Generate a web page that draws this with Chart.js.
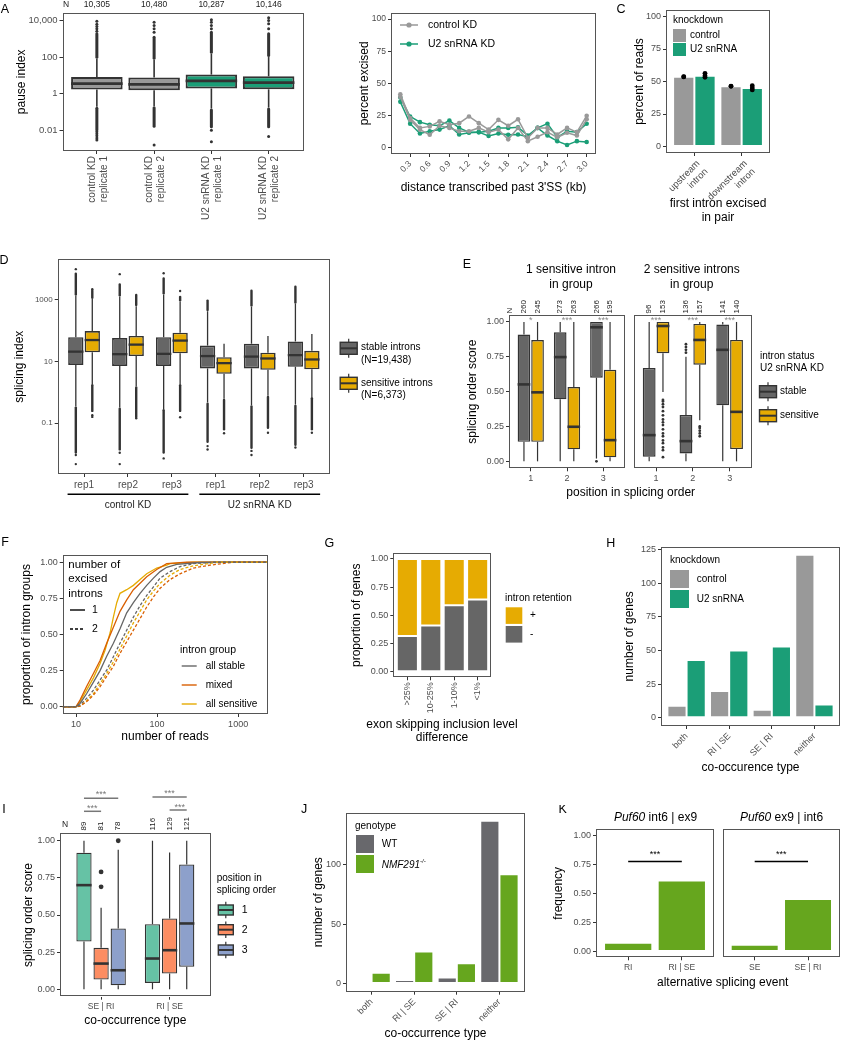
<!DOCTYPE html>
<html>
<head>
<meta charset="utf-8">
<title>Splicing figure</title>
<script src="https://cdn.jsdelivr.net/npm/chart.js@4.4.1/dist/chart.umd.min.js"></script>
<style>
  body { margin: 0; background: #fff; }
  #fig { position: relative; width: 849px; height: 1050px; overflow: hidden; }
  #fig canvas { position: absolute; }
</style>
</head>
<body>
<div id="fig"></div>
<script>
// ---------- data ----------
// A: pause index per sample (box stats, log scale)
const A_SAMPLES = [['control KD', 'replicate 1'], ['control KD', 'replicate 2'], ['U2 snRNA KD', 'replicate 1'], ['U2 snRNA KD', 'replicate 2']];
const A_N = ['10,305', '10,480', '10,287', '10,146'];
const A_Q1 = [1.65, 1.5, 1.9, 1.7];
const A_MED = [3.5, 3.2, 4.9, 4.0];
const A_Q3 = [8.1, 7.5, 10.9, 8.8];
const A_WLO = [0.19, 0.2, 0.15, 0.17];
const A_WHI = [81, 71, 151, 100];
const A_DENSE_LO = [0.01, 0.016, 0.015, 0.015];
const A_DENSE_HI = [1860, 1230, 2290, 1860];
const A_OUT = [[9100, 6300, 4700, 3500, 2600, 0.0081, 0.0062, 0.0048, 0.0037, 0.0028],
               [8100, 5400, 3500, 2300, 0.0015],
               [11000, 8100, 5400, 3500, 0.0098, 0.0023],
               [14100, 10000, 6600, 3500, 0.0044]];
const A_YTICKS = [0.01, 1, 100, 10000];
const A_YLABELS = ['0.01', '1', '100', '10,000'];

// B: percent excised vs distance transcribed
const B_KB = [0.15, 0.3, 0.45, 0.6, 0.75, 0.9, 1.05, 1.2, 1.35, 1.5, 1.65, 1.8, 1.95, 2.1, 2.25, 2.4, 2.55, 2.7, 2.85, 3.0];
const B_CTRL1 = [41.5, 23, 15.3, 16.5, 20.4, 17.8, 19, 24.2, 19, 14, 21.6, 17, 22, 7.6, 15.3, 15.3, 10.2, 15.3, 12, 24.7];
const B_CTRL2 = [39.5, 21.6, 14, 10, 17, 15.3, 12.7, 12.7, 15.3, 12, 14, 6.4, 15.3, 5, 8.4, 12, 8, 11.5, 9.4, 22];
const B_U2_1 = [39, 24.2, 19.8, 17.8, 17, 21, 15.3, 12, 12, 12.7, 15.3, 15.3, 15.8, 9.4, 15.3, 18.6, 8, 12.7, 12, 18.6];
const B_U2_2 = [35.6, 18.6, 11, 12.7, 14, 17, 10.2, 11.5, 12, 9, 11, 10, 10.2, 8.4, 15.3, 9.4, 5, 2, 5, 4.3];
const B_XTICKS = [0.3, 0.6, 0.9, 1.2, 1.5, 1.8, 2.1, 2.4, 2.7, 3.0];
const B_XLABELS = ['0.3', '0.6', '0.9', '1.2', '1.5', '1.8', '2.1', '2.4', '2.7', '3.0'];

// C: first intron excised in pair
const C_FIRST = [['upstream', 'intron'], ['downstream', 'intron']];
const C_CTRL = [53.7, 46.3];
const C_U2 = [54.5, 45.0];
const C_CTRL_REPS = [[53.7, 53.5], [46.3, 46.5]];
const C_U2_REPS = [[56.3, 54.5, 53.2], [46.8, 45.0, 43.5]];

// D: splicing index, stable vs sensitive introns
const D_REPS = ['rep1', 'rep2', 'rep3', 'rep1', 'rep2', 'rep3'];
const D_ST_Q1 = [7.8, 7.2, 7.2, 6.0, 6.0, 6.8];
const D_ST_MED = [21, 17.4, 17.8, 15.1, 14.5, 16.2];
const D_ST_Q3 = [62, 58, 62, 33, 38, 45];
const D_ST_WLO = [0.35, 0.32, 0.29, 0.47, 0.38, 0.4];
const D_ST_WHI = [1380, 1290, 1510, 430, 600, 760];
const D_ST_DLO = [0.0112, 0.0141, 0.0112, 0.025, 0.0158, 0.02];
const D_ST_DHI = [7080, 3160, 5010, 955, 2000, 2690];
const D_ST_OUT = [[10000, 0.0093, 0.0047], [6900, 0.011, 0.0047], [7400, 0.0072], [0.018, 0.014], [0.0126, 0.0093], [0.0162]];
const D_SE_Q1 = [20, 15.1, 18.6, 4.0, 5.4, 5.6];
const D_SE_MED = [50, 35.5, 48, 8.9, 12.6, 11.7];
const D_SE_Q3 = [98, 68, 87, 13.8, 19.5, 22.4];
const D_SE_WLO = [1.86, 1.58, 1.86, 0.62, 0.78, 0.71];
const D_SE_WHI = [1070, 630, 890, 38, 68, 79];
const D_SE_DLO = [0.25, 0.16, 0.25, 0.063, 0.071, 0.063];
const D_SE_DHI = [2000, 1450, 1260, 38, 68, 79];
const D_SE_OUT = [[2240, 0.18, 0.16], [0.145], [1950, 0.155], [0.047], [0.049], [0.049]];
const D_YTICKS = [0.1, 10, 1000];
const D_YLABELS = ['0.1', '10', '1000'];

// E: splicing order score by position (two facets)
const E_POS = ['1', '2', '3'];
const E1_ST = {q1: [0.14, 0.445, 0.60], med: [0.552, 0.748, 0.962], q3: [0.91, 0.926, 1.0], wlo: [0, 0, 0.02], whi: [1, 1, 1], out: [[], [], [0]]};
const E1_SE = {q1: [0.14, 0.086, 0.029], med: [0.495, 0.248, 0.152], q3: [0.87, 0.533, 0.657], wlo: [0, 0, 0], whi: [1, 1, 1], out: [[], [], []]};
const E2_ST = {q1: [0.033, 0.057, 0.402], med: [0.188, 0.145, 0.80], q3: [0.669, 0.333, 0.981], wlo: [0, 0, 0], whi: [1, 0.75, 1], out: [[], [0.78, 0.80, 0.82, 0.84], []]};
const E2_SE = {q1: [0.776, 0.693, 0.088], med: [0.971, 0.871, 0.355], q3: [1.0, 0.986, 0.871], wlo: [0.498, 0.295, 0], whi: [1, 1, 1],
  out: [[0.44, 0.43, 0.41, 0.39, 0.36, 0.33, 0.3, 0.28, 0.26, 0.23, 0.2, 0.18, 0.15, 0.13, 0.1, 0.08, 0.03], [0.25, 0.24, 0.22, 0.2, 0.18], []]};
const E1_N_ST = ['260', '273', '266'], E1_N_SE = ['245', '263', '195'];
const E2_N_ST = ['96', '136', '141'], E2_N_SE = ['153', '157', '140'];
const E1_SIG = ['*', '***', '***'], E2_SIG = ['***', '***', '***'];
const SCORE_TICKS = [0, 0.25, 0.5, 0.75, 1];
const SCORE_LABELS = ['0.00', '0.25', '0.50', '0.75', '1.00'];

// F: cumulative proportion of intron groups vs number of reads
const F_ST1_X = [6.85, 10, 11.2, 13.5, 16.4, 19.8, 23.9, 28.9, 34.9, 42.2, 51, 61.7, 74.5, 90.2, 109, 131.5, 175, 339, 725, 2290];
const F_ST1_Y = [0, 0, 0.023, 0.09, 0.17, 0.25, 0.35, 0.44, 0.54, 0.65, 0.72, 0.785, 0.84, 0.89, 0.935, 0.965, 0.985, 0.998, 1, 1];
const F_MX1_X = [6.85, 10, 11.2, 13.5, 16.4, 19.8, 23.9, 28.9, 34.9, 42.2, 51, 61.7, 74.5, 99, 131.5, 232, 2290];
const F_MX1_Y = [0, 0, 0.046, 0.14, 0.23, 0.32, 0.44, 0.55, 0.66, 0.74, 0.81, 0.855, 0.9, 0.95, 0.99, 1, 1];
const F_SE1_X = [6.85, 10, 11.2, 13.5, 16.4, 19.8, 22.8, 26.3, 28.9, 31.8, 34.9, 42.2, 51, 61.7, 74.5, 99, 131.5, 144.5, 281, 2290];
const F_SE1_Y = [0, 0, 0.035, 0.115, 0.2, 0.3, 0.39, 0.51, 0.62, 0.72, 0.785, 0.81, 0.84, 0.88, 0.92, 0.96, 0.98, 0.99, 1, 1];
const F_ST2_X = [6.85, 10, 11.2, 13.5, 16.4, 19.8, 23.9, 28.9, 34.9, 42.2, 51, 61.7, 74.5, 90.2, 109, 144.5, 192, 281, 496, 2290];
const F_ST2_Y = [0, 0, 0.012, 0.058, 0.115, 0.185, 0.254, 0.346, 0.44, 0.53, 0.62, 0.7, 0.77, 0.83, 0.89, 0.935, 0.97, 0.99, 1, 1];
const F_MX2_X = [6.85, 10, 11.2, 13.5, 16.4, 19.8, 23.9, 28.9, 34.9, 42.2, 51, 61.7, 74.5, 90.2, 109, 144.5, 192, 281, 451, 875, 2290];
const F_MX2_Y = [0, 0, 0.005, 0.035, 0.08, 0.14, 0.21, 0.28, 0.37, 0.45, 0.53, 0.61, 0.69, 0.76, 0.82, 0.88, 0.92, 0.96, 0.98, 1, 1];
const F_SE2_X = [6.85, 10, 11.2, 13.5, 16.4, 19.8, 23.9, 28.9, 34.9, 42.2, 51, 61.7, 74.5, 90.2, 109, 144.5, 192, 281, 545, 2290];
const F_SE2_Y = [0, 0, 0.004, 0.042, 0.09, 0.16, 0.23, 0.31, 0.40, 0.49, 0.58, 0.66, 0.74, 0.8, 0.855, 0.91, 0.95, 0.975, 1, 1];

// G: intron retention by exon skipping inclusion level difference
const G_BINS = ['>25%', '10-25%', '1-10%', '<1%'];
const G_MINUS = [0.317, 0.41, 0.59, 0.64];
const G_PLUS = [0.683, 0.59, 0.41, 0.36];

// H: co-occurence type, knockdown
const CO_TYPES = ['both', 'RI | SE', 'SE | RI', 'neither'];
const H_CTRL = [9, 20, 6, 121];
const H_U2 = [43, 50, 53, 10];

// I: splicing order score by co-occurrence type
const I_TYPES = ['SE | RI', 'RI | SE'];
const I_P1 = {q1: [0.321, 0.043], med: [0.701, 0.207], q3: [0.919, 0.438], wlo: [0, 0], whi: [1, 1], out: [[], []]};
const I_P2 = {q1: [0.065, 0.106], med: [0.173, 0.263], q3: [0.279, 0.476], wlo: [0, 0], whi: [0.548, 0.92], out: [[0.79, 0.69], []]};
const I_P3 = {q1: [0.027, 0.151], med: [0.128, 0.443], q3: [0.409, 0.84], wlo: [0, 0], whi: [0.94, 1], out: [[1.0], []]};
const I_N = [['89', '116'], ['81', '129'], ['78', '121']];

// J: genotype
const J_WT = [0, 3, 5, 137];
const J_NMF = [9, 27, 17, 92];

// K: Puf60 events
const K_LEFT = ['RI', 'RI | SE'];
const K_LEFT_FREQ = [0.076, 0.609];
const K_RIGHT = ['SE', 'SE | RI'];
const K_RIGHT_FREQ = [0.057, 0.450];

// ---------- styling ----------
const INK = '#333333';
const FONT = "'Liberation Sans', Arial, Helvetica, sans-serif";
const GREY = '#999999', GREEN = '#1b9e77', DARK = '#666666', GOLD = '#e6ab02', ORANGE = '#d95f02', LIME = '#66a61e', WTGREY = '#68686c';
const SET2 = ['#66c2a5', '#fc8d62', '#8da0cb'];

Chart.defaults.font.family = FONT;
Chart.defaults.color = '#4d4d4d';

const FIG = document.getElementById('fig');

function scaleOpts(a, horiz, o) {
  const [cx, cy, cw, chh] = o.box, fr = o.frame;
  const lh = 12 * 1.2;
  const pad = {top: 0, bottom: 0};
  if (a.title) {
    if (horiz) pad.bottom = cy + chh - a.titleAt - lh / 2;
    else pad.top = a.titleAt - cx - lh / 2;
  }
  return {
    type: a.type || 'linear', min: a.min, max: a.max, stacked: !!a.stacked, offset: false,
    grid: {offset: false, drawOnChartArea: false, drawTicks: !a.hide, tickLength: 3, color: INK, lineWidth: 1},
    border: {display: false},
    ticks: {display: !a.hide, autoSkip: false, padding: 2, color: '#4d4d4d', font: {size: a.fs || 9},
            minRotation: a.rot || 0, maxRotation: a.rot || 0, labelOffset: a.lo || 0,
            callback: (v, i) => (a.labels ? a.labels[i] : '')},
    afterBuildTicks: s => { s.ticks = a.ticks.map(v => ({value: v})); },
    afterFit: s => {
      if (horiz) s.height = cy + chh - fr[3]; else s.width = fr[0] - cx;
      s.paddingLeft = s.paddingRight = s.paddingTop = s.paddingBottom = 0;
    },
    title: {display: !!a.title, text: a.title || '', color: '#000', font: {size: 12, lineHeight: 1.2}, padding: pad}
  };
}

function seg(ctx, x1, y1, x2, y2) {
  ctx.beginPath(); ctx.moveTo(x1, y1); ctx.lineTo(x2, y2); ctx.stroke();
}
function dot(ctx, x, y, r) {
  ctx.beginPath(); ctx.arc(x, y, r, 0, Math.PI * 2); ctx.fill();
}

// whiskers / medians / outliers for floating-bar boxes, dots for replicates
function boxParts(ch, front) {
  const ctx = ch.ctx, ys = ch.scales.y;
  const py = v => ys.getPixelForValue(v);
  ch.data.datasets.forEach((ds, di) => {
    const meta = ch.getDatasetMeta(di);
    if (ds.reps && front) {
      meta.data.forEach((el, j) => {
        ctx.save(); ctx.fillStyle = '#000';
        ds.reps[j].forEach(v => dot(ctx, el.x, py(v), 2.4));
        ctx.restore();
      });
    }
    const st = ds.stats;
    if (!st) return;
    meta.data.forEach((el, j) => {
      const x = el.x, hw = el.width / 2, q = ds.data[j].y;
      ctx.save();
      ctx.strokeStyle = INK; ctx.fillStyle = INK;
      if (!front) {
        ctx.lineWidth = st.lw;
        seg(ctx, x, py(q[1]), x, py(st.whi[j]));
        seg(ctx, x, py(q[0]), x, py(st.wlo[j]));
      } else {
        ctx.lineWidth = st.mw;
        seg(ctx, x - hw, py(st.med[j]), x + hw, py(st.med[j]));
        ctx.lineCap = 'round';
        ctx.lineWidth = st.r * 2;
        if (st.dhi && st.dhi[j] > st.whi[j]) seg(ctx, x, py(st.whi[j]) - st.r, x, py(st.dhi[j]));
        if (st.dlo && st.dlo[j] < st.wlo[j]) seg(ctx, x, py(st.wlo[j]) + st.r, x, py(st.dlo[j]));
        (st.out[j] || []).forEach(v => dot(ctx, x, py(v), st.r));
      }
      ctx.restore();
    });
  });
}

function drawNotes(ch, items, bx) {
  const ctx = ch.ctx;
  const X = (it, k) => {
    if (it[k + 'e']) { const e = it[k + 'e']; return ch.getDatasetMeta(e[0]).data[e[1]].x; }
    if (it[k + 'v'] !== undefined) return ch.scales.x.getPixelForValue(it[k + 'v']);
    return it[k] - bx[0];
  };
  const Y = (it, k) => (it[k + 'v'] !== undefined ? ch.scales.y.getPixelForValue(it[k + 'v']) : it[k] - bx[1]);
  items.forEach(it => {
    ctx.save();
    if (it.t === 'l') {
      ctx.strokeStyle = it.c || INK; ctx.lineWidth = it.w || 1; ctx.setLineDash(it.d || []);
      seg(ctx, X(it, 'x1'), Y(it, 'y1'), X(it, 'x2'), Y(it, 'y2'));
    } else if (it.t === 'r') {
      const x = X(it, 'x'), y = Y(it, 'y');
      ctx.fillStyle = it.c; ctx.fillRect(x, y, it.w, it.h);
      if (it.s) { ctx.strokeStyle = it.s; ctx.lineWidth = it.lw || 1; ctx.strokeRect(x, y, it.w, it.h); }
    } else if (it.t === 'p') {
      ctx.fillStyle = it.c; dot(ctx, X(it, 'x'), Y(it, 'y'), it.r);
    } else {
      const f = it.f || 10;
      const parts = it.parts || [[it.s, it.it]];
      const fontOf = p => (p[1] ? 'italic ' : '') + (p[2] ? f * 0.6 : f) + 'px ' + FONT;
      let total = 0;
      parts.forEach(p => { ctx.font = fontOf(p); total += ctx.measureText(p[0]).width; });
      ctx.translate(X(it, 'x'), Y(it, 'y'));
      if (it.r) ctx.rotate(it.r * Math.PI / 180);
      const al = it.a || 'center';
      let x0 = al === 'center' ? -total / 2 : (al === 'right' ? -total : 0);
      ctx.textBaseline = 'middle'; ctx.textAlign = 'left'; ctx.fillStyle = it.c || '#000';
      parts.forEach(p => {
        ctx.font = fontOf(p);
        ctx.fillText(p[0], x0, p[2] ? -f * 0.35 : 0);
        x0 += ctx.measureText(p[0]).width;
      });
    }
    ctx.restore();
  });
}

function deco(o) {
  return {
    id: 'deco',
    beforeDatasetsDraw(ch) { boxParts(ch, false); },
    afterDatasetsDraw(ch) { boxParts(ch, true); },
    afterDraw(ch) {
      const ctx = ch.ctx, a = ch.chartArea;
      ctx.save();
      ctx.strokeStyle = '#555555'; ctx.lineWidth = 1;
      ctx.strokeRect(Math.round(a.left) + 0.5, Math.round(a.top) + 0.5, Math.round(a.right - a.left) - 1, Math.round(a.bottom - a.top) - 1);
      ctx.restore();
      drawNotes(ch, o.notes || [], o.box);
    }
  };
}

function makeChart(o) {
  const [cx, cy, cw, chh] = o.box;
  const cv = document.createElement('canvas');
  cv.width = cw; cv.height = chh;
  cv.style.left = cx + 'px'; cv.style.top = cy + 'px';
  cv.style.width = cw + 'px'; cv.style.height = chh + 'px';
  FIG.appendChild(cv);
  return new Chart(cv, {
    type: o.type || 'bar',
    data: {datasets: o.datasets},
    options: {
      responsive: false, animation: false, events: [], devicePixelRatio: 1,
      layout: {padding: {left: 0, top: o.frame[1] - cy, right: cx + cw - o.frame[2], bottom: 0}},
      plugins: {legend: {display: false}, tooltip: {enabled: false}},
      scales: {x: scaleOpts(o.x, true, o), y: scaleOpts(o.y, false, o)}
    },
    plugins: [deco(o)]
  });
}

// helpers for annotations
const T = (s, x, y, f, more) => Object.assign({s, x, y, f}, more || {});
const letter = (s, x, y) => T(s, x, y, 12.5);
function boxKey(cx, cy, w, h, wh, fill) {
  return [
    {t: 'l', x1: cx, y1: cy - wh, x2: cx, y2: cy + wh, c: INK, w: 1.2},
    {t: 'r', x: cx - w / 2, y: cy - h / 2, w: w, h: h, c: fill, s: INK, lw: 1.4},
    {t: 'l', x1: cx - w / 2, y1: cy, x2: cx + w / 2, y2: cy, c: INK, w: 2}
  ];
}
const idx = arr => arr.map((_, i) => i);
const boxData = st => st.q1.map((q, i) => ({x: i, y: [q, st.q3[i]]}));
const barData = vals => vals.map((v, i) => ({x: i, y: v}));
const xyData = (xs, ys) => xs.map((x, i) => ({x: x, y: ys[i]}));

// ---------- A ----------
makeChart({
  box: [0, 0, 306, 232], frame: [62.5, 12.7, 303, 151],
  x: {min: -0.6, max: 3.6, ticks: idx(A_SAMPLES), labels: A_SAMPLES, rot: 90, fs: 10, lo: -5},
  y: {type: 'logarithmic', min: 0.000708, max: 26900, ticks: A_YTICKS, labels: A_YLABELS, fs: 9.5, title: 'pause index', titleAt: 22},
  datasets: [{
    data: A_Q1.map((q, i) => ({x: i, y: [q, A_Q3[i]]})),
    backgroundColor: [GREY, GREY, GREEN, GREEN], borderColor: INK, borderWidth: 2, borderSkipped: false,
    categoryPercentage: 0.9, barPercentage: 1,
    stats: {wlo: A_WLO, whi: A_WHI, med: A_MED, dlo: A_DENSE_LO, dhi: A_DENSE_HI, out: A_OUT, lw: 1.6, mw: 2.8, r: 1.5}
  }],
  notes: [letter('A', 5, 10), T('N', 66, 5, 8.5, {c: '#222'})]
    .concat(A_N.map((n, i) => T(n, 0, 5, 8.5, {xv: i, c: '#222'})))
});

// ---------- B ----------
const bLine = (vals, col) => ({
  data: xyData(B_KB, vals), borderColor: col, backgroundColor: col, borderWidth: 1.5,
  pointRadius: 2.3, pointBorderWidth: 0, tension: 0
});
makeChart({
  type: 'line', box: [355, 0, 245, 200], frame: [391, 12.7, 596, 154],
  x: {min: 0.0075, max: 3.1425, ticks: B_XTICKS, labels: B_XLABELS, rot: 45, fs: 8.5, title: "distance transcribed past 3'SS (kb)", titleAt: 188},
  y: {min: -5, max: 105, ticks: [0, 25, 50, 75, 100], labels: ['0', '25', '50', '75', '100'], fs: 8.5, title: 'percent excised', titleAt: 365},
  datasets: [bLine(B_CTRL1, GREY), bLine(B_CTRL2, GREY), bLine(B_U2_1, GREEN), bLine(B_U2_2, GREEN)],
  notes: [letter('B', 350, 10),
    {t: 'l', x1: 400, y1: 25, x2: 418, y2: 25, c: GREY, w: 1.5}, {t: 'p', x: 409, y: 25, r: 2.6, c: GREY}, T('control KD', 428, 25, 10.5, {a: 'left'}),
    {t: 'l', x1: 400, y1: 44, x2: 418, y2: 44, c: GREEN, w: 1.5}, {t: 'p', x: 409, y: 44, r: 2.6, c: GREEN}, T('U2 snRNA KD', 428, 44, 10.5, {a: 'left'})]
});

// ---------- C ----------
makeChart({
  box: [600, 0, 249, 230], frame: [666, 10, 770, 153],
  x: {min: -0.6, max: 1.6, ticks: idx(C_FIRST), labels: C_FIRST, rot: 45, fs: 9.5, lo: 4, title: ['first intron excised', 'in pair'], titleAt: 218},
  y: {min: -5, max: 105, ticks: [0, 25, 50, 75, 100], labels: ['0', '25', '50', '75', '100'], fs: 9, title: 'percent of reads', titleAt: 640},
  datasets: [
    {data: barData(C_CTRL), backgroundColor: GREY, borderColor: '#fff', borderWidth: 1, borderSkipped: false, categoryPercentage: 0.9, barPercentage: 1, reps: C_CTRL_REPS},
    {data: barData(C_U2), backgroundColor: GREEN, borderColor: '#fff', borderWidth: 1, borderSkipped: false, categoryPercentage: 0.9, barPercentage: 1, reps: C_U2_REPS}
  ],
  notes: [letter('C', 621, 10), T('knockdown', 673, 20, 10, {a: 'left'}),
    {t: 'r', x: 673, y: 29, w: 13, h: 13, c: GREY}, T('control', 690, 35.5, 10, {a: 'left'}),
    {t: 'r', x: 673, y: 43, w: 13, h: 13, c: GREEN}, T('U2 snRNA', 690, 49.5, 10, {a: 'left'})]
});

// ---------- D ----------
makeChart({
  box: [0, 250, 440, 265], frame: [57.7, 259.3, 330, 474],
  x: {min: -0.6, max: 5.6, ticks: idx(D_REPS), labels: D_REPS, fs: 10},
  y: {type: 'logarithmic', min: 0.00224, max: 20900, ticks: D_YTICKS, labels: D_YLABELS, fs: 8, title: 'splicing index', titleAt: 20},
  datasets: [
    {data: D_ST_Q1.map((q, i) => ({x: i, y: [q, D_ST_Q3[i]]})), backgroundColor: DARK, borderColor: INK, borderWidth: 1.6, borderSkipped: false,
     categoryPercentage: 0.75, barPercentage: 0.93,
     stats: {wlo: D_ST_WLO, whi: D_ST_WHI, med: D_ST_MED, dlo: D_ST_DLO, dhi: D_ST_DHI, out: D_ST_OUT, lw: 1.3, mw: 2.3, r: 1.2}},
    {data: D_SE_Q1.map((q, i) => ({x: i, y: [q, D_SE_Q3[i]]})), backgroundColor: GOLD, borderColor: INK, borderWidth: 1.6, borderSkipped: false,
     categoryPercentage: 0.75, barPercentage: 0.93,
     stats: {wlo: D_SE_WLO, whi: D_SE_WHI, med: D_SE_MED, dlo: D_SE_DLO, dhi: D_SE_DHI, out: D_SE_OUT, lw: 1.3, mw: 2.3, r: 1.2}}
  ],
  notes: [letter('D', 4, 261),
    {t: 'l', x1v: -0.375, x2v: 2.375, y1: 494.3, y2: 494.3, c: '#000', w: 1.5},
    {t: 'l', x1v: 2.625, x2v: 5.375, y1: 494.3, y2: 494.3, c: '#000', w: 1.5},
    T('control KD', 0, 505, 10, {xv: 1, c: '#222'}), T('U2 snRNA KD', 0, 505, 10, {xv: 4, c: '#222'})]
    .concat(boxKey(348.7, 348.3, 17, 12, 9.5, DARK), boxKey(348.7, 383.3, 17, 12, 9.5, GOLD),
      [T('stable introns', 361, 347.7, 10, {a: 'left'}), T('(N=19,438)', 361, 360, 10, {a: 'left'}),
       T('sensitive introns', 361, 383.3, 10, {a: 'left'}), T('(N=6,373)', 361, 395.7, 10, {a: 'left'})])
});

// ---------- E ----------
const eBoxes = (st, se) => [
  {data: boxData(st), backgroundColor: DARK, borderColor: INK, borderWidth: 1.4, borderSkipped: false, categoryPercentage: 0.75, barPercentage: 0.93,
   stats: Object.assign({lw: 1.2, mw: 2.6, r: 1.4}, st)},
  {data: boxData(se), backgroundColor: GOLD, borderColor: INK, borderWidth: 1.4, borderSkipped: false, categoryPercentage: 0.75, barPercentage: 0.93,
   stats: Object.assign({lw: 1.2, mw: 2.6, r: 1.4}, se)}
];
const nLabels = (stN, seN) => stN.map((n, j) => T(n, 0, 313.5, 8, {xe: [0, j], r: -90, a: 'left', c: '#222'}))
  .concat(seN.map((n, j) => T(n, 0, 313.5, 8, {xe: [1, j], r: -90, a: 'left', c: '#222'})));
const stars = sig => sig.map((s, j) => T(s, 0, 320.5, 9, {xv: j, c: '#888'}));
makeChart({
  box: [440, 255, 409, 250], frame: [509, 315, 625, 468.3],
  x: {min: -0.6, max: 2.6, ticks: idx(E_POS), labels: E_POS, fs: 9},
  y: {min: -0.05, max: 1.05, ticks: SCORE_TICKS, labels: SCORE_LABELS, fs: 9, title: 'splicing order score', titleAt: 473},
  datasets: eBoxes(E1_ST, E1_SE),
  notes: [letter('E', 467, 265),
    T('1 sensitive intron', 571, 270, 12), T('in group', 571, 284.3, 12),
    T('2 sensitive introns', 691.7, 270, 12), T('in group', 691.7, 284.3, 12),
    T('N', 510, 313.5, 8, {r: -90, a: 'left', c: '#222'}),
    T('position in splicing order', 630.7, 492.7, 12)]
    .concat(nLabels(E1_N_ST, E1_N_SE), stars(E1_SIG))
});
makeChart({
  box: [630, 255, 219, 250], frame: [634, 315, 751.7, 468.3],
  x: {min: -0.6, max: 2.6, ticks: idx(E_POS), labels: E_POS, fs: 9},
  y: {min: -0.05, max: 1.05, ticks: SCORE_TICKS, hide: true},
  datasets: eBoxes(E2_ST, E2_SE),
  notes: nLabels(E2_N_ST, E2_N_SE).concat(stars(E2_SIG),
    [T('intron status', 760, 356.7, 10, {a: 'left'}), T('U2 snRNA KD', 760, 368.3, 10, {a: 'left'})],
    boxKey(768, 391.7, 17, 12, 9.5, DARK), boxKey(768, 415.7, 17, 12, 9.5, GOLD),
    [T('stable', 780, 391.7, 10, {a: 'left'}), T('sensitive', 780, 415.7, 10, {a: 'left'})])
});

// ---------- F ----------
const fLine = (xs, ys, col, dash) => ({
  data: xyData(xs, ys), borderColor: col, borderWidth: 1.3, borderDash: dash ? [3, 2] : [], pointRadius: 0, tension: 0, fill: false
});
makeChart({
  type: 'line', box: [0, 530, 290, 217], frame: [62.7, 555, 267.3, 714],
  x: {type: 'logarithmic', min: 6.85, max: 2290, ticks: [10, 100, 1000], labels: ['10', '100', '1000'], fs: 9, title: 'number of reads', titleAt: 736.7},
  y: {min: -0.05, max: 1.05, ticks: SCORE_TICKS, labels: SCORE_LABELS, fs: 9, title: 'proportion of intron groups', titleAt: 26.7},
  datasets: [
    fLine(F_ST2_X, F_ST2_Y, DARK, true), fLine(F_MX2_X, F_MX2_Y, ORANGE, true), fLine(F_SE2_X, F_SE2_Y, GOLD, true),
    fLine(F_ST1_X, F_ST1_Y, DARK, false), fLine(F_MX1_X, F_MX1_Y, ORANGE, false), fLine(F_SE1_X, F_SE1_Y, GOLD, false)
  ],
  notes: [letter('F', 5, 543),
    T('number of', 68.3, 565, 11.5, {a: 'left'}), T('excised', 68.3, 579.3, 11.5, {a: 'left'}), T('introns', 68.3, 593.5, 11.5, {a: 'left'}),
    {t: 'l', x1: 70, y1: 610, x2: 85, y2: 610, c: '#000', w: 1.4}, T('1', 95, 610, 10.5),
    {t: 'l', x1: 70, y1: 629, x2: 85, y2: 629, c: '#000', w: 1.4, d: [3, 2]}, T('2', 95, 629, 10.5),
    T('intron group', 180, 650, 10.5, {a: 'left'}),
    {t: 'l', x1: 181.7, y1: 666, x2: 196.7, y2: 666, c: DARK, w: 1.4}, T('all stable', 205.7, 666, 10, {a: 'left'}),
    {t: 'l', x1: 181.7, y1: 685, x2: 196.7, y2: 685, c: ORANGE, w: 1.4}, T('mixed', 205.7, 685, 10, {a: 'left'}),
    {t: 'l', x1: 181.7, y1: 704, x2: 196.7, y2: 704, c: GOLD, w: 1.4}, T('all sensitive', 205.7, 704, 10, {a: 'left'})]
});

// ---------- G ----------
makeChart({
  box: [300, 530, 290, 220], frame: [393.3, 553.3, 491.7, 677.3],
  x: {min: -0.6, max: 3.6, stacked: true, ticks: idx(G_BINS), labels: G_BINS, rot: 90, fs: 9},
  y: {min: -0.05, max: 1.05, stacked: true, ticks: SCORE_TICKS, labels: SCORE_LABELS, fs: 9, title: 'proportion of genes', titleAt: 356.7},
  datasets: [
    {data: barData(G_MINUS), backgroundColor: DARK, borderColor: '#fff', borderWidth: 1, borderSkipped: false, categoryPercentage: 0.9, barPercentage: 1},
    {data: barData(G_PLUS), backgroundColor: GOLD, borderColor: '#fff', borderWidth: 1, borderSkipped: false, categoryPercentage: 0.9, barPercentage: 1}
  ],
  notes: [letter('G', 329.3, 544), T('intron retention', 505, 598.3, 10, {a: 'left'}),
    {t: 'r', x: 505.7, y: 607.3, w: 16.6, h: 16.6, c: GOLD}, T('+', 530, 615.7, 10, {a: 'left'}),
    {t: 'r', x: 505.7, y: 626, w: 16.6, h: 16.6, c: DARK}, T('-', 530, 634.3, 10, {a: 'left'}),
    T('exon skipping inclusion level', 442, 724.3, 12), T('difference', 442, 737.7, 12)]
});

// ---------- H ----------
makeChart({
  box: [600, 530, 249, 245], frame: [661, 546.7, 840, 726],
  x: {min: -0.6, max: 3.6, ticks: idx(CO_TYPES), labels: CO_TYPES, rot: 45, fs: 9, title: 'co-occurence type', titleAt: 767.3},
  y: {min: -6.05, max: 127.05, ticks: [0, 25, 50, 75, 100, 125], labels: ['0', '25', '50', '75', '100', '125'], fs: 9, title: 'number of genes', titleAt: 630},
  datasets: [
    {data: barData(H_CTRL), backgroundColor: GREY, borderColor: '#fff', borderWidth: 1, borderSkipped: false, categoryPercentage: 0.9, barPercentage: 1},
    {data: barData(H_U2), backgroundColor: GREEN, borderColor: '#fff', borderWidth: 1, borderSkipped: false, categoryPercentage: 0.9, barPercentage: 1}
  ],
  notes: [letter('H', 610.7, 544), T('knockdown', 670, 560.7, 10, {a: 'left'}),
    {t: 'r', x: 670, y: 570, w: 19, h: 18, c: GREY}, T('control', 696.7, 579.3, 10, {a: 'left'}),
    {t: 'r', x: 670, y: 590, w: 19, h: 18, c: GREEN}, T('U2 snRNA', 696.7, 599, 10, {a: 'left'})]
});

// ---------- I ----------
const iBox = (st, col) => ({
  data: boxData(st), backgroundColor: col, borderColor: INK, borderWidth: 1.3, borderSkipped: false,
  categoryPercentage: 0.75, barPercentage: 0.89, stats: Object.assign({lw: 1.2, mw: 2.6, r: 2.4}, st)
});
makeChart({
  box: [0, 785, 290, 265], frame: [60, 833.3, 210.7, 996.7],
  x: {min: -0.6, max: 1.6, ticks: idx(I_TYPES), labels: I_TYPES, fs: 8.5, title: 'co-occurrence type', titleAt: 1020.7},
  y: {min: -0.05, max: 1.05, ticks: SCORE_TICKS, labels: SCORE_LABELS, fs: 9, title: 'splicing order score', titleAt: 28.3},
  datasets: [iBox(I_P1, SET2[0]), iBox(I_P2, SET2[1]), iBox(I_P3, SET2[2])],
  notes: [letter('I', 4, 810), T('N', 65, 825, 8.5, {c: '#222'}),
    {t: 'l', x1e: [0, 0], x2e: [2, 0], y1: 798.3, y2: 798.3, c: '#777', w: 1.5}, T('***', 0, 794.7, 9, {xe: [1, 0], c: '#777'}),
    {t: 'l', x1e: [0, 0], x2e: [1, 0], y1: 811.3, y2: 811.3, c: '#777', w: 1.5}, T('***', 92.3, 808.7, 9, {c: '#777'}),
    {t: 'l', x1e: [0, 1], x2e: [2, 1], y1: 797, y2: 797, c: '#777', w: 1.5}, T('***', 0, 793.7, 9, {xe: [1, 1], c: '#777'}),
    {t: 'l', x1e: [1, 1], x2e: [2, 1], y1: 810, y2: 810, c: '#777', w: 1.5}, T('***', 179.7, 807.7, 9, {c: '#777'}),
    T('position in', 216.7, 878.3, 10, {a: 'left'}), T('splicing order', 216.7, 890.7, 10, {a: 'left'})]
    .concat(I_N[0].map((n, j) => T(n, 0, 830.5, 8, {xe: [0, j], r: -90, a: 'left', c: '#222'})),
      I_N[1].map((n, j) => T(n, 0, 830.5, 8, {xe: [1, j], r: -90, a: 'left', c: '#222'})),
      I_N[2].map((n, j) => T(n, 0, 830.5, 8, {xe: [2, j], r: -90, a: 'left', c: '#222'})),
      boxKey(225.8, 910, 15, 10, 8.3, SET2[0]), boxKey(225.8, 929.7, 15, 10, 8.3, SET2[1]), boxKey(225.8, 950, 15, 10, 8.3, SET2[2]),
      [T('1', 241.7, 910, 10.5, {a: 'left'}), T('2', 241.7, 929.7, 10.5, {a: 'left'}), T('3', 241.7, 950, 10.5, {a: 'left'})])
});

// ---------- J ----------
makeChart({
  box: [295, 800, 260, 250], frame: [346, 812.7, 525, 991.7],
  x: {min: -0.6, max: 3.6, ticks: idx(CO_TYPES), labels: CO_TYPES, rot: 45, fs: 9, title: 'co-occurrence type', titleAt: 1033.3},
  y: {min: -6.85, max: 143.85, ticks: [0, 50, 100], labels: ['0', '50', '100'], fs: 9, title: 'number of genes', titleAt: 318.3},
  datasets: [
    {data: barData(J_WT), backgroundColor: WTGREY, borderColor: '#fff', borderWidth: 1, borderSkipped: false, categoryPercentage: 0.9, barPercentage: 1},
    {data: barData(J_NMF), backgroundColor: LIME, borderColor: '#fff', borderWidth: 1, borderSkipped: false, categoryPercentage: 0.9, barPercentage: 1}
  ],
  notes: [letter('J', 304, 810), T('genotype', 355, 826, 10, {a: 'left'}),
    {t: 'r', x: 356, y: 835, w: 18, h: 18, c: WTGREY}, T('WT', 381.7, 844, 10, {a: 'left'}),
    {t: 'r', x: 356, y: 855, w: 18, h: 18, c: LIME}, {parts: [['NMF291', true], ['-/-', true, true]], x: 381.7, y: 865, f: 10, a: 'left'}]
});

// ---------- K ----------
const kBars = vals => [{data: barData(vals), backgroundColor: LIME, borderColor: '#fff', borderWidth: 1, borderSkipped: false, categoryPercentage: 0.9, barPercentage: 1}];
makeChart({
  box: [545, 805, 304, 245], frame: [596, 829.3, 714, 957.3],
  x: {min: -0.6, max: 1.6, ticks: idx(K_LEFT), labels: K_LEFT, fs: 8.5},
  y: {min: -0.05, max: 1.05, ticks: SCORE_TICKS, labels: SCORE_LABELS, fs: 9, title: 'frequency', titleAt: 558.3},
  datasets: kBars(K_LEFT_FREQ),
  notes: [letter('K', 562.7, 810),
    {parts: [['Puf60', true], [' int6 | ex9', false]], x: 655.5, y: 817.7, f: 12},
    {parts: [['Puf60', true], [' ex9 | int6', false]], x: 781.5, y: 817.7, f: 12},
    {t: 'l', x1v: 0, x2v: 1, y1v: 0.773, y2v: 0.773, c: '#000', w: 1.5}, T('***', 0, 854.3, 9, {xv: 0.5}),
    T('alternative splicing event', 722.7, 982.3, 12)]
});
makeChart({
  box: [718, 805, 131, 245], frame: [722.7, 829.3, 840, 957.3],
  x: {min: -0.6, max: 1.6, ticks: idx(K_RIGHT), labels: K_RIGHT, fs: 8.5},
  y: {min: -0.05, max: 1.05, ticks: SCORE_TICKS, hide: true},
  datasets: kBars(K_RIGHT_FREQ),
  notes: [{t: 'l', x1v: 0, x2v: 1, y1v: 0.773, y2v: 0.773, c: '#000', w: 1.5}, T('***', 0, 854.3, 9, {xv: 0.5})]
});
</script>
</body>
</html>
